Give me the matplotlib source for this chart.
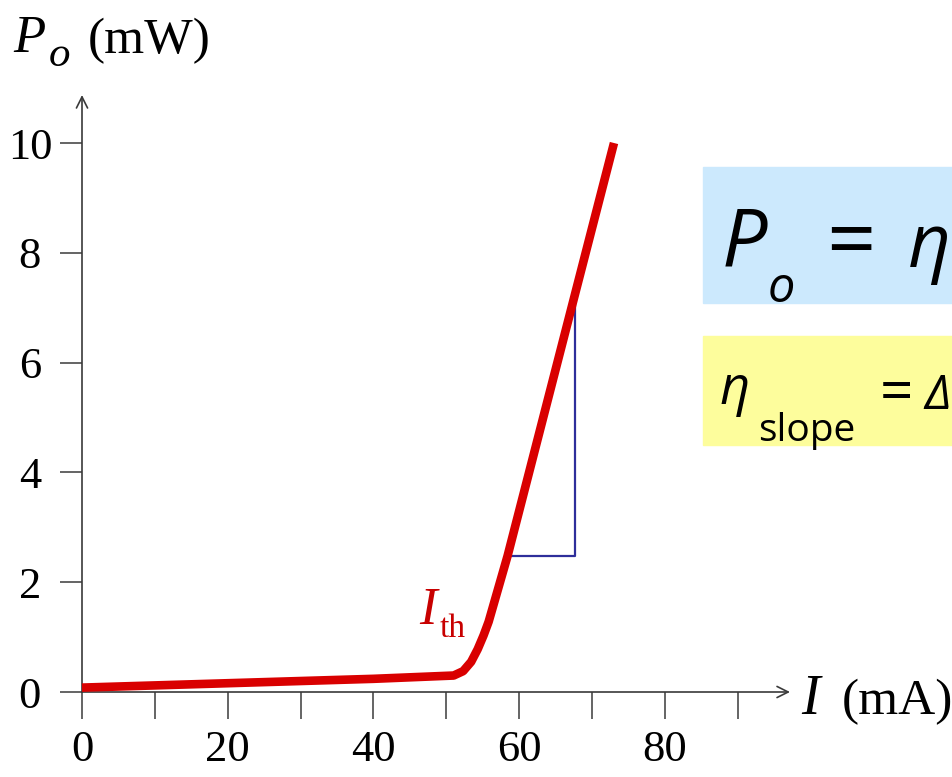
import matplotlib
matplotlib.use("Agg")
import matplotlib.pyplot as plt
from matplotlib.patches import Rectangle

# L-I curve of a laser diode
current = [0, 10, 20, 30, 40, 51, 52.3, 53.4, 54.3, 55.1, 55.8, 58.4, 67.6, 73]
power = [0.08, 0.12, 0.16, 0.2, 0.24, 0.3, 0.38, 0.55, 0.78, 1.03, 1.28, 2.48, 7.22, 10.0]

# slope triangle
tri_x = [58.4, 67.6, 67.6]
tri_y = [2.48, 2.48, 7.22]

x_ticks = [0, 10, 20, 30, 40, 50, 60, 70, 80, 90]
x_labels = ["0", "", "20", "", "40", "", "60", "", "80", ""]
y_ticks = [0, 2, 4, 6, 8, 10]
y_labels = ["0", "2", "4", "6", "8", "10"]

plt.rcParams["font.family"] = "Liberation Serif"

W, H = 953, 777
fig = plt.figure(figsize=(W / 100, H / 100), dpi=100)


def fx(px):
    return px / W


def fy(py):
    return 1 - py / H


# axes: 0 mA at px 82, 80 mA at px 665; 0 mW at px 692, 10 mW at px 143
ppx = (665 - 82) / 80
ppy = (692 - 143) / 10
x_end, y_top = 790, 95
ax = fig.add_axes([fx(82), fy(692), (x_end - 82) / W, (692 - y_top) / H])
ax.set_xlim(0, (x_end - 82) / ppx)
ax.set_ylim(0, (692 - y_top) / ppy)
for s in ax.spines.values():
    s.set_visible(False)

axis_col = "#3a3a3a"
for tip in [(1, 0), (0, 1)]:
    ax.annotate("", xy=tip, xytext=(0, 0), xycoords="axes fraction",
                arrowprops=dict(arrowstyle="->", color=axis_col, lw=1.2,
                                mutation_scale=20, shrinkA=0, shrinkB=0))

ax.set_xticks(x_ticks)
ax.set_xticklabels(x_labels)
ax.set_yticks(y_ticks)
ax.set_yticklabels(y_labels)
ax.tick_params(axis="x", direction="out", length=19.5, width=1.1, color=axis_col,
               labelsize=32, pad=8)
ax.tick_params(axis="y", direction="out", length=15.5, width=1.1, color=axis_col,
               labelsize=32, pad=22)
for lab in ax.get_yticklabels():
    lab.set_horizontalalignment("center")

ax.plot(current, power, color="#d90000", lw=6.2, solid_capstyle="butt",
        solid_joinstyle="round", clip_on=False, zorder=3)
ax.plot(tri_x, tri_y, color="#2e2e9a", lw=1.6, zorder=2)

# I_th label
red = "#c80000"
fig.text(fx(419), fy(624), "I", color=red, fontsize=38, style="italic", va="baseline")
fig.text(fx(440), fy(637), "th", color=red, fontsize=24, va="baseline")

# axis titles
fig.text(fx(13), fy(52), "P", fontsize=38, style="italic", va="baseline")
fig.text(fx(49), fy(66), "o", fontsize=31, style="italic", va="baseline")
fig.text(fx(88), fy(53), "(mW)", fontsize=37, va="baseline")
fig.text(fx(801), fy(714), "I", fontsize=40, style="italic", va="baseline")
fig.text(fx(842), fy(714), "(mA)", fontsize=37, va="baseline")

# formula boxes, cut off at the right edge
fig.patches.append(Rectangle((fx(703), fy(303)), 300 / W, 136 / H,
                             transform=fig.transFigure, color="#cce9fd", zorder=0))
fig.patches.append(Rectangle((fx(703), fy(445)), 300 / W, 109 / H,
                             transform=fig.transFigure, color="#fdfd9c", zorder=0))

sans = "Open Sans"
fig.text(fx(722), fy(267), "P", family=sans, style="italic", fontsize=58, va="baseline")
fig.text(fx(768), fy(302), "o", family=sans, style="italic", fontsize=35, va="baseline")
fig.text(fx(826), fy(269), "=", family=sans, fontsize=62, va="baseline")
fig.text(fx(951), fy(267), "η", family=sans, style="italic", fontsize=54,
         ha="right", va="baseline")

fig.text(fx(720), fy(404), "η", family=sans, style="italic", fontsize=38, va="baseline")
fig.text(fx(758), fy(441), "slope", family=sans, fontsize=28, va="baseline")
fig.text(fx(880), fy(411), "=", family=sans, fontsize=42, va="baseline")
fig.text(fx(951), fy(409), "Δ", family=sans, style="italic", fontsize=34,
         ha="right", va="baseline")

fig.savefig("out.png", dpi=100)
